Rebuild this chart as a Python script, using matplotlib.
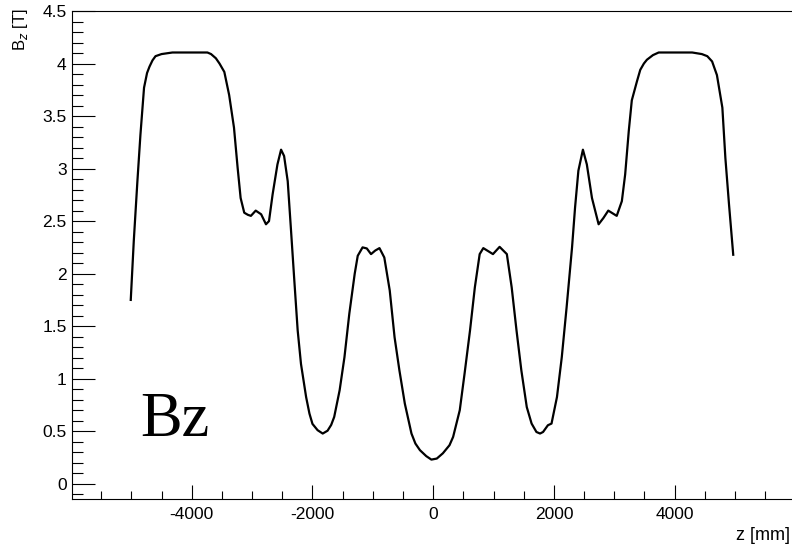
import matplotlib
matplotlib.use("Agg")
import matplotlib.pyplot as plt
from matplotlib.ticker import MultipleLocator, FuncFormatter

# Field profile
z_mm = [-5010, -4960, -4900, -4850, -4790, -4740, -4700, -4650, -4600, -4500,
        -4320, -3740, -3680, -3600, -3540, -3460, -3380, -3300, -3240, -3190,
        -3130, -3070, -3020, -2940, -2850, -2770, -2720, -2660, -2580, -2520,
        -2470, -2410, -2355, -2300, -2245, -2190, -2105, -2050, -2000, -1915,
        -1830, -1750, -1690, -1640, -1550, -1470, -1390, -1300, -1250, -1170,
        -1100, -1030, -960, -890, -810, -720, -640, -560, -470, -360,
        -295, -220, -115, -30, 60, 160, 270, 330, 440, 520,
        610, 690, 770, 830, 990, 1100, 1220, 1300, 1380, 1460,
        1550, 1630, 1710, 1770, 1820, 1900, 1960, 2050, 2130, 2210,
        2300, 2350, 2405, 2480, 2545, 2630, 2740, 2820, 2900, 3040,
        3125, 3180, 3240, 3290, 3375, 3430, 3490, 3540, 3640, 3735,
        4290, 4450, 4540, 4620, 4700, 4790, 4840, 4900, 4970]
bz_T = [1.75, 2.31, 2.88, 3.32, 3.77, 3.91, 3.97, 4.03, 4.07, 4.09,
        4.105, 4.105, 4.09, 4.05, 4.00, 3.92, 3.70, 3.39, 3.01, 2.72,
        2.58, 2.56, 2.55, 2.60, 2.565, 2.47, 2.50, 2.755, 3.04, 3.18,
        3.12, 2.88, 2.41, 1.93, 1.46, 1.14, 0.825, 0.668, 0.57, 0.51,
        0.478, 0.505, 0.56, 0.636, 0.89, 1.205, 1.617, 2.00, 2.17, 2.25,
        2.24, 2.186, 2.22, 2.243, 2.154, 1.84, 1.395, 1.08, 0.763, 0.478,
        0.383, 0.32, 0.263, 0.23, 0.24, 0.29, 0.367, 0.446, 0.70, 1.05,
        1.46, 1.87, 2.186, 2.243, 2.186, 2.255, 2.186, 1.87, 1.46, 1.08,
        0.73, 0.573, 0.493, 0.478, 0.493, 0.557, 0.573, 0.825, 1.205, 1.68,
        2.25, 2.63, 2.98, 3.18, 3.04, 2.72, 2.47, 2.53, 2.60, 2.55,
        2.69, 2.945, 3.36, 3.65, 3.83, 3.94, 4.00, 4.036, 4.08, 4.105,
        4.105, 4.09, 4.07, 4.02, 3.89, 3.58, 3.10, 2.66, 2.18]

x_label = "z [mm]"
y_label = r"B$_{z}$ [T]"
tag = "Bz"

W, H = 792, 546
fig = plt.figure(figsize=(W / 100, H / 100), dpi=100)
left_px, right_px, top_px, bot_px = 72.2, 794.2, 11, 499
ax = fig.add_axes([left_px / W, (H - bot_px) / H,
                   (right_px - left_px) / W, (bot_px - top_px) / H])

ax.plot(z_mm, bz_T, color="black", lw=1.6)
ax.set_xlim(-5980, 5980)
ax.set_ylim(-0.145, 4.5)

for s in ax.spines.values():
    s.set_linewidth(0.8)

ax.xaxis.set_major_locator(MultipleLocator(2000))
ax.xaxis.set_minor_locator(MultipleLocator(500))
ax.yaxis.set_major_locator(MultipleLocator(0.5))
ax.yaxis.set_minor_locator(MultipleLocator(0.1))
ax.yaxis.set_major_formatter(FuncFormatter(lambda v, p: f"{v:g}"))
ax.xaxis.set_major_formatter(FuncFormatter(lambda v, p: f"{v:g}"))

ax.tick_params(axis="both", which="both", direction="in", top=False, right=False,
               width=0.8, labelsize=12.5)
ax.tick_params(axis="y", which="major", length=16.5, pad=4)
ax.tick_params(axis="y", which="minor", length=8)
ax.tick_params(axis="x", which="major", length=10, pad=6)
ax.tick_params(axis="x", which="minor", length=5.5)
for lab in ax.get_xticklabels() + ax.get_yticklabels():
    lab.set_family("Liberation Sans")

fig.text(20 / W, 1 - 8 / H, y_label, rotation=90, ha="center", va="top",
         fontsize=12, family="Liberation Sans")
fig.text(790 / W, 1 - 535 / H, x_label, ha="right", va="center",
         fontsize=13, family="Liberation Sans")
fig.text(140 / W, 1 - 436 / H, tag, ha="left", va="baseline",
         fontsize=45, family="Liberation Serif")

fig.savefig("out.png", dpi=100)
